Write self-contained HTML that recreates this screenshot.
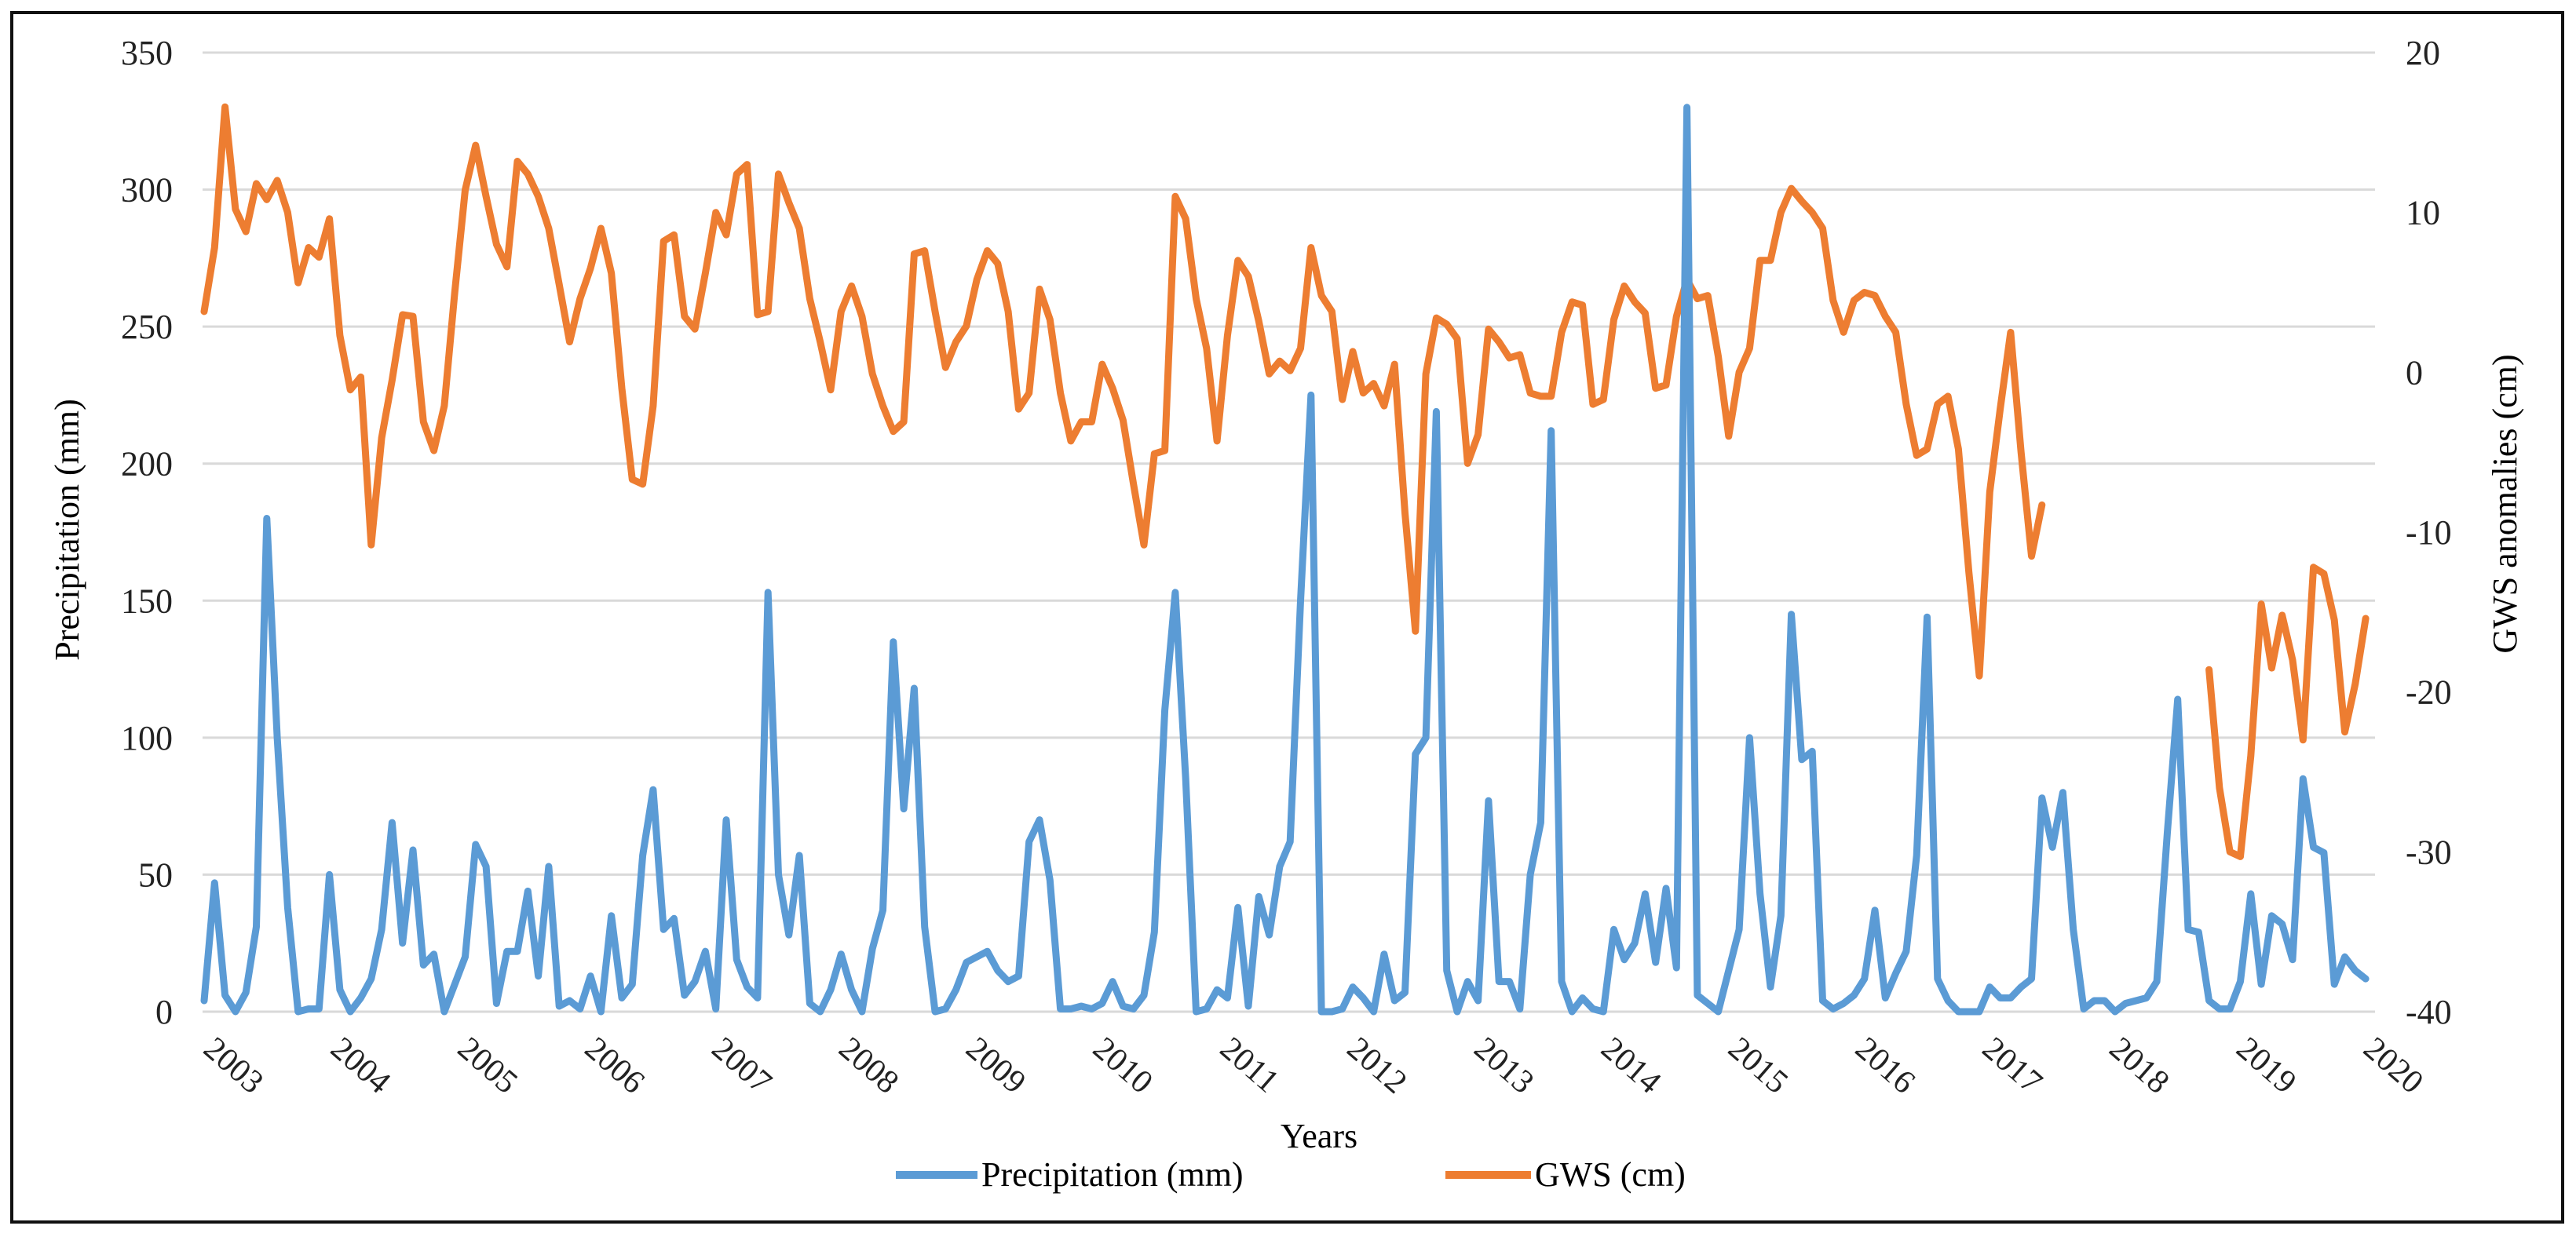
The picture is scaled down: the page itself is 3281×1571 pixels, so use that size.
<!DOCTYPE html>
<html>
<head>
<meta charset="utf-8">
<style>
  html,body{margin:0;padding:0;background:#fff;}
  body{width:3281px;height:1571px;overflow:hidden;position:relative;font-family:"Liberation Serif",serif;}
  svg{position:absolute;left:0;top:0;}
</style>
</head>
<body>
<svg id="chart" width="3281" height="1571" viewBox="0 0 3281 1571" xmlns="http://www.w3.org/2000/svg">
  <rect x="15" y="16" width="3249" height="1541" fill="#fff" stroke="#111" stroke-width="4"/>
  <g id="grid"></g>
  <g id="leftTicks"></g>
  <g id="rightTicks"></g>
  <g id="xTicks"></g>
  <g id="series"></g>
  <text x="0" y="0" transform="translate(100,675) rotate(-90)" text-anchor="middle" font-size="44" fill="#000">Precipitation (mm)</text>
  <text x="0" y="0" transform="translate(3205,642) rotate(-90)" text-anchor="middle" font-size="44" fill="#000">GWS anomalies (cm)</text>
  <text x="1680" y="1462" text-anchor="middle" font-size="44" fill="#000">Years</text>
  <g>
    <g>
      <line x1="1141" y1="1497" x2="1245" y2="1497" stroke="#5b9bd5" stroke-width="10"/>
      <text x="1250" y="1511" font-size="44" fill="#000">Precipitation (mm)</text>
    </g>
    <g>
      <line x1="1841" y1="1497" x2="1950" y2="1497" stroke="#ed7d31" stroke-width="10"/>
      <text x="1955" y="1511" font-size="44" fill="#000">GWS (cm)</text>
    </g>
  </g>
</svg>
<script>
const years = [2003,2004,2005,2006,2007,2008,2009,2010,2011,2012,2013,2014,2015,2016,2017,2018,2019,2020];
const leftTicks = [0,50,100,150,200,250,300,350];
const rightTicks = [20,10,0,-10,-20,-30,-40];
const precipitation = [
4,47,6,0,7,31,180,100,38,0,1,1,50,8,0,5,12,30,69,25,59,17,21,0,10,20,61,53,3,22,22,44,13,53,2,4,1,13,0,35,5,10,
57,81,30,34,6,11,22,1,70,19,9,5,153,50,28,57,3,0,8,21,8,0,23,37,135,74,118,31,0,1,8,18,20,22,15,11,13,62,70,48,1,1,
2,1,3,11,2,1,6,29,110,153,85,0,1,8,5,38,2,42,28,53,62,150,225,0,0,1,9,5,0,21,4,7,94,100,219,15,0,11,4,77,11,11,1,50,
69,212,11,0,5,1,0,30,19,25,43,18,45,16,330,6,3,0,15,30,100,43,9,35,145,92,95,4,1,3,6,12,37,5,14,22,57,144,12,4,0,
0,0,9,5,5,9,12,78,60,80,30,1,4,4,0,3,4,5,11,65,114,30,29,4,1,1,11,43,10,35,32,19,85,60,58,10,20,15,12];
const gws = [
3.8,7.8,16.6,10.2,8.8,11.8,10.8,12,10,5.6,7.8,7.2,9.6,2.3,-1.1,-0.3,-10.8,-4.1,-0.5,3.6,3.5,-3.1,-4.9,-2.1,5,11.4,14.2,11,8,6.6,13.2,12.4,11,9,5.5,1.9,4.6,6.5,9,6.2,-1,-6.7,
-7,-2.1,8.2,8.6,3.5,2.7,6.2,10,8.6,12.4,13,3.6,3.8,12.4,10.6,9,4.6,1.9,-1.1,3.8,5.4,3.5,-0.1,-2.1,-3.7,-3.1,7.4,7.6,3.8,0.3,1.9,2.9,5.8,7.6,6.8,3.8,-2.3,-1.3,5.2,3.3,-1.3,-4.3,-3.1,
-3.1,0.5,-1,-3,-7,-10.8,-5.1,-4.9,11,9.6,4.6,1.5,-4.3,2.3,7,6,3.2,-0.1,0.7,0.1,1.5,7.8,4.8,3.8,-1.7,1.3,-1.3,-0.7,-2.1,0.5,-8.8,-16.2,-0.1,3.4,3,2.1,-5.7,-3.9,2.7,1.9,0.9,1.1,-1.3,
-1.5,-1.5,2.5,4.4,4.2,-2,-1.7,3.3,5.4,4.4,3.7,-1,-0.8,3.5,5.8,4.6,4.8,1,-4,0,1.5,7,7,10,11.5,10.7,10,9,4.5,2.5,4.5,5,4.8,3.5,2.5,-2,-5.2,-4.8,-2,-1.5,-4.8,-12.5,
-19,-7.5,-2.3,2.5,-5,-11.5,-8.3,
null,null,null,null,null,null,null,null,null,null,null,null,null,null,null,
-18.6,-26,-30,-30.3,-24,-14.5,-18.5,-15.2,-18,-23,-12.2,-12.6,-15.5,-22.5,-19.5,-15.4];

const NS = "http://www.w3.org/2000/svg";
const plotL = 258, plotR = 3025, plotT = 67, plotB = 1289;
const x0 = 260, stepX = 13.3;
function xPos(i){ return x0 + i*stepX; }
function yLeft(v){ return plotB - (v/350)*(plotB-plotT); }
function yRight(v){ return plotB - ((v+40)/60)*(plotB-plotT); }
function yearX(k){ return 257 + k*(3008-257)/(years.length-1); }

function mk(tag, attrs, parent){
  const el = document.createElementNS(NS, tag);
  for (const k in attrs) el.setAttribute(k, attrs[k]);
  parent.appendChild(el);
  return el;
}

const grid = document.getElementById('grid');
leftTicks.forEach(v=>{
  const l = mk('line',{x1:plotL,x2:plotR,y1:yLeft(v),y2:yLeft(v),stroke:'#d9d9d9','stroke-width':3},grid);
  
  
});

const lt = document.getElementById('leftTicks');
leftTicks.forEach(v=>{
  const t = mk('text',{x:220,y:yLeft(v)+15,'text-anchor':'end','font-size':44,fill:'#222'},lt);
  t.textContent = v;
  
  
});

const rt = document.getElementById('rightTicks');
rightTicks.forEach(v=>{
  const t = mk('text',{x:3064,y:yRight(v)+15,'text-anchor':'start','font-size':44,fill:'#222'},rt);
  t.textContent = v;
  
  
});

const xt = document.getElementById('xTicks');
years.forEach((y,k)=>{
  const t = mk('text',{x:0,y:0,transform:'translate('+yearX(k)+',1340) rotate(41)','font-size':42,fill:'#222'},xt);
  t.textContent = y;
  
  
});

function buildPath(arr, yf){
  let d = '', pen = false;
  arr.forEach((v,i)=>{
    if (v === null || v === undefined){ pen = false; return; }
    d += (pen ? 'L' : 'M') + xPos(i).toFixed(1) + ' ' + yf(v).toFixed(1) + ' ';
    pen = true;
  });
  return d;
}
const sg = document.getElementById('series');
const pGws = mk('path',{d:buildPath(gws,yRight),fill:'none',stroke:'#ed7d31','stroke-width':9,'stroke-linejoin':'round','stroke-linecap':'round'},sg);


const pPre = mk('path',{d:buildPath(precipitation,yLeft),fill:'none',stroke:'#5b9bd5','stroke-width':9,'stroke-linejoin':'round','stroke-linecap':'round'},sg);


</script>
</body>
</html>
